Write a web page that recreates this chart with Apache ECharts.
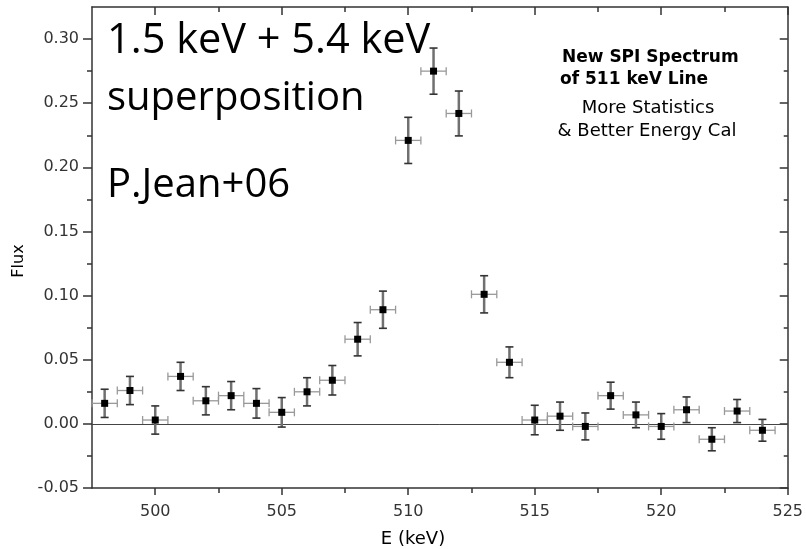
<!DOCTYPE html>
<html style="height: 100%">
<head>
  <meta charset="utf-8">
  <title>511 keV line</title>
</head>
<body style="height: 100%; margin: 0">
<div id="container" style="height: 549px; width: 806px;"></div>
<script type="text/javascript" src="https://cdn.jsdelivr.net/npm/echarts@6/dist/echarts.min.js"></script>
<script type="text/javascript">
  // spectrum points (keV bins, flux, 1-sigma error)
  var energy = [498, 499, 500, 501, 502, 503, 504, 505, 506, 507, 508, 509, 510, 511,
                512, 513, 514, 515, 516, 517, 518, 519, 520, 521, 522, 523, 524];
  var flux = [0.016, 0.026, 0.003, 0.037, 0.018, 0.022, 0.016, 0.009, 0.025, 0.034, 0.066, 0.089, 0.221, 0.275,
              0.242, 0.101, 0.048, 0.003, 0.006, -0.002, 0.022, 0.007, -0.002, 0.011, -0.012, 0.010, -0.005];
  var fluxErr = [0.011, 0.011, 0.011, 0.011, 0.011, 0.011, 0.0115, 0.0115, 0.011, 0.0115, 0.013, 0.0145, 0.018, 0.018,
                 0.0175, 0.0145, 0.012, 0.0115, 0.011, 0.0105, 0.0105, 0.010, 0.010, 0.010, 0.009, 0.009, 0.0085];
  var binHalf = 0.5;

  var xMajor = [500, 505, 510, 515, 520, 525];
  var xMinor = [502.5, 507.5, 512.5, 517.5, 522.5];
  var yMajor = [-0.05, 0, 0.05, 0.10, 0.15, 0.20, 0.25, 0.30];
  var yMinor = [-0.025, 0.025, 0.075, 0.125, 0.175, 0.225, 0.275];

  var noteLeft = ['1.5 keV + 5.4 keV', 'superposition', 'P.Jean+06'];
  var noteRight = ['New SPI Spectrum', 'of 511 keV Line', 'More Statistics', '& Better Energy Cal'];

  var points = energy.map(function (e, i) { return [e, flux[i], fluxErr[i]]; });

  var dom = document.getElementById("container");
  var myChart = echarts.init(dom);

  var axisCol = '#333';
  var tickFont = { fontFamily: 'DejaVu Sans', fontSize: 16, color: '#333' };

  function xAx(pos, ticks, len, inside, showLine, showLabel) {
    return {
      type: 'value', position: pos, min: 497.5, max: 525,
      axisLine: { show: showLine, onZero: false, lineStyle: { color: axisCol, width: 1.5 } },
      axisTick: { show: true, inside: inside, length: len, customValues: ticks, lineStyle: { color: axisCol, width: 1.5 } },
      axisLabel: showLabel ? Object.assign({ margin: 16, customValues: ticks }, tickFont) : { show: false },
      splitLine: { show: false }
    };
  }
  function yAx(pos, ticks, len, inside, showLine, showLabel) {
    return {
      type: 'value', position: pos, min: -0.05, max: 0.325,
      axisLine: { show: showLine, onZero: false, lineStyle: { color: axisCol, width: 1.5 } },
      axisTick: { show: true, inside: inside, length: len, customValues: ticks, lineStyle: { color: axisCol, width: 1.5 } },
      axisLabel: showLabel ? Object.assign({
        margin: 13, customValues: ticks,
        formatter: function (v) { return v.toFixed(2); }
      }, tickFont) : { show: false },
      splitLine: { show: false }
    };
  }

  function renderErr(params, api) {
    var x = api.value(0), y = api.value(1), e = api.value(2);
    var c = api.coord([x, y]);
    var l = api.coord([x - binHalf, y])[0];
    var r = api.coord([x + binHalf, y])[0];
    var t = api.coord([x, y + e])[1];
    var b = api.coord([x, y - e])[1];
    var cap = 4;
    var hs = { stroke: '#999', lineWidth: 1.3 };
    var vs = { stroke: '#707070', lineWidth: 2.5 };
    var cs = { stroke: '#333', lineWidth: 1.6 };
    return {
      type: 'group',
      children: [
        { type: 'line', shape: { x1: l, y1: c[1], x2: r, y2: c[1] }, style: hs },
        { type: 'line', shape: { x1: l, y1: c[1] - cap, x2: l, y2: c[1] + cap }, style: hs },
        { type: 'line', shape: { x1: r, y1: c[1] - cap, x2: r, y2: c[1] + cap }, style: hs },
        { type: 'line', shape: { x1: c[0], y1: t, x2: c[0], y2: b }, style: vs },
        { type: 'line', shape: { x1: c[0] - cap, y1: t, x2: c[0] + cap, y2: t }, style: cs },
        { type: 'line', shape: { x1: c[0] - cap, y1: b, x2: c[0] + cap, y2: b }, style: cs },
        { type: 'rect', shape: { x: c[0] - 3.5, y: c[1] - 3.5, width: 7, height: 7 }, style: { fill: '#000' } }
      ]
    };
  }

  function txt(s, x, y, font, align, rot) {
    return {
      type: 'text', x: x, y: y, rotation: rot || 0, silent: true,
      style: { text: s, font: font, fill: '#000', align: align, verticalAlign: 'middle' }
    };
  }

  var bigFont = '40px "Open Sans"';
  var boldFont = 'bold 17px "DejaVu Sans"';
  var regFont = '18px "DejaVu Sans"';

  option = {
    animation: false,
    backgroundColor: '#fff',
    grid: { left: 92, right: 10, top: 7, bottom: 61 },
    xAxis: [
      xAx('bottom', xMajor, 7, false, true, true),
      xAx('bottom', xMinor, 5, false, false, false),
      xAx('top', xMajor, 8, true, true, false),
      xAx('top', xMinor, 5, true, false, false)
    ],
    yAxis: [
      yAx('left', yMajor, 9, false, true, true),
      yAx('left', yMinor, 5, false, false, false),
      yAx('right', yMajor, 8, true, true, false),
      yAx('right', yMinor, 4, true, false, false)
    ],
    graphic: [
      txt(noteLeft[0], 107, 41, '41.5px "Open Sans"', 'left'),
      txt(noteLeft[1], 107, 98.5, bigFont, 'left'),
      txt(noteLeft[2], 107, 185.5, bigFont, 'left'),
      txt(noteRight[0], 562, 58, boldFont, 'left'),
      txt(noteRight[1], 560, 80, boldFont, 'left'),
      txt(noteRight[2], 648, 108, regFont, 'center'),
      txt(noteRight[3], 647, 131.5, regFont, 'center'),
      txt('E (keV)', 413, 539.5, regFont, 'center'),
      txt('Flux', 19, 261, '16px "DejaVu Sans"', 'center', Math.PI / 2)
    ],
    series: [
      {
        type: 'custom',
        xAxisIndex: 0,
        yAxisIndex: 0,
        renderItem: renderErr,
        data: points,
        z: 5,
        markLine: {
          silent: true,
          symbol: 'none',
          label: { show: false },
          lineStyle: { color: '#444', width: 1, type: 'solid' },
          data: [{ yAxis: 0 }]
        }
      }
    ]
  };
  if (option && typeof option === "object") {
    myChart.setOption(option, true);
  }
</script>
</body>
</html>
